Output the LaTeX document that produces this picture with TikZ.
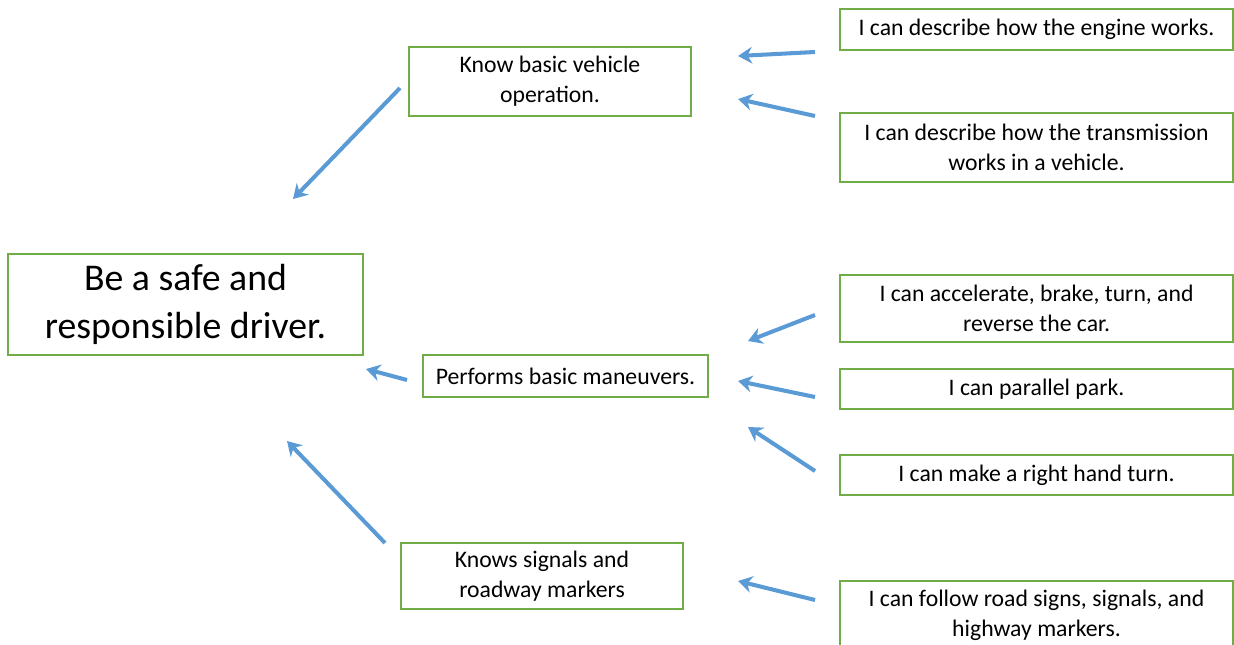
\documentclass[tikz,border=0pt]{standalone}
\usepackage{fontspec}
\setmainfont{Carlito}
\usetikzlibrary{arrows.meta}
\definecolor{boxgreen}{RGB}{112,173,71}
\definecolor{arrowblue}{RGB}{91,155,213}
\begin{document}
\begin{tikzpicture}[x=0.02cm,y=-0.02cm,>={Stealth[length=8pt,width=9.5pt]},
	goal/.style={draw=boxgreen,line width=1.1pt,align=center,inner sep=0pt,font=\fontsize{13.5}{17}\selectfont},
	link/.style={->,draw=arrowblue,line width=2.3pt}]
		\useasboundingbox (0,0) rectangle (1234,645);
		\clip (0,0) rectangle (1234,645);
		\node[goal,minimum width=7.1cm,minimum height=2.02cm,font=\fontsize{21.5}{27}\selectfont] (drv) at (185.5,304.5) {Be a safe and\\responsible driver.};
		\node[goal,minimum width=5.64cm,minimum height=1.38cm] (oper) at (550,81.5) {Know basic vehicle\\operation.};
		\node[goal,minimum width=5.7cm,minimum height=0.84cm] (man) at (565.5,376) {Performs basic maneuvers.};
		\node[goal,minimum width=5.64cm,minimum height=1.32cm] (sig) at (542,576) {Knows signals and\\roadway markers};
		\node[goal,minimum width=7.86cm,minimum height=0.82cm] (eng) at (1036.5,29.5) {I can describe how the engine works.};
		\node[goal,minimum width=7.86cm,minimum height=1.38cm] (trans) at (1036.5,147.5) {I can describe how the transmission\\works in a vehicle.};
		\node[goal,minimum width=7.86cm,minimum height=1.34cm] (acc) at (1036.5,308.5) {I can accelerate, brake, turn, and\\reverse the car.};
		\node[goal,minimum width=7.86cm,minimum height=0.8cm] (park) at (1036.5,389) {I can parallel park.};
		\node[goal,minimum width=7.86cm,minimum height=0.8cm] (turn) at (1036.5,475) {I can make a right hand turn.};
		\node[goal,minimum width=7.86cm,minimum height=1.38cm] (road) at (1036.5,615.5) {I can follow road signs, signals, and\\highway markers.};
		\coordinate (a1s) at (400,88);  \coordinate (a1e) at (293,199);
		\coordinate (a2s) at (407,380); \coordinate (a2e) at (366,369);
		\coordinate (a3s) at (385,543); \coordinate (a3e) at (287,441);
		\coordinate (b1s) at (815,52);  \coordinate (b1e) at (738,56);
		\coordinate (b2s) at (815,116); \coordinate (b2e) at (738,99);
		\coordinate (b3s) at (815,315); \coordinate (b3e) at (748,341);
		\coordinate (b4s) at (815,397); \coordinate (b4e) at (738,381);
		\coordinate (b5s) at (815,471); \coordinate (b5e) at (748,427);
		\coordinate (b6s) at (815,600); \coordinate (b6e) at (738,581);
		\draw[link] (a1s) -- (a1e);
		\draw[link] (a2s) -- (a2e);
		\draw[link] (a3s) -- (a3e);
		\draw[link] (b1s) -- (b1e);
		\draw[link] (b2s) -- (b2e);
		\draw[link] (b3s) -- (b3e);
		\draw[link] (b4s) -- (b4e);
		\draw[link] (b5s) -- (b5e);
		\draw[link] (b6s) -- (b6e);
\end{tikzpicture}
\end{document}
